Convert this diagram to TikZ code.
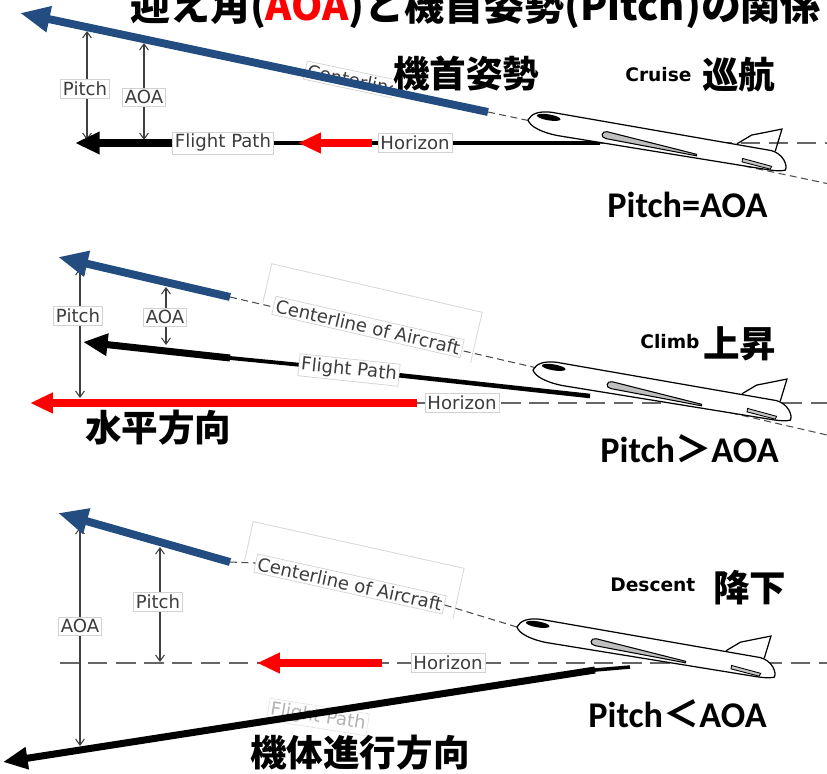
\documentclass[tikz,border=0pt]{standalone}
\usepackage{fontspec}
\usetikzlibrary{arrows.meta}
\newfontfamily\jpfont{Noto Sans CJK JP}
\newfontfamily\calfont{Carlito}
\newfontfamily\dvfont{DejaVu Sans}
\definecolor{navy}{RGB}{35,76,128}
\definecolor{labelgray}{RGB}{60,60,60}

\tikzset{
  titletext/.style={font=\jpfont\bfseries\fontsize{22.7}{26}\selectfont, inner sep=0, anchor=base west},
  jptext/.style={font=\jpfont\bfseries\fontsize{20.8}{24}\selectfont, inner sep=0, anchor=base west},
  cmptext/.style={font=\calfont\bfseries\fontsize{20.6}{24}\selectfont, inner sep=0, anchor=base west},
  phasetext/.style={font=\dvfont\bfseries\fontsize{10.6}{12}\selectfont, inner sep=0, anchor=base west},
  tag/.style={font=\dvfont\fontsize{10.3}{12}\selectfont, text=labelgray, draw=gray!35, fill=white,
    inner sep=1.3pt, line width=0.4pt},
  tagframe/.style={draw=gray!30, line width=0.5pt},
  dimarrow/.style={{Straight Barb[length=3.5pt,width=5pt]}-{Straight Barb[length=3.5pt,width=5pt]},
    draw=black!75, line width=0.6pt},
  bluearrow/.style={-{Triangle[length=17pt,width=14pt]}, navy, line width=4.5pt},
  redarrow/.style={-{Triangle[length=13pt,width=11pt]}, red, line width=4pt},
  patharrow/.style={-{Triangle[length=14pt,width=12pt]}, black, line width=4pt},
  horizonline/.style={draw=black!60, line width=0.9pt, dash pattern=on 11pt off 5pt},
  centerline/.style={draw=black!70, line width=0.6pt, dash pattern=on 4pt off 2.5pt},
  aircraft/.pic={
    % fuselage
    \draw[fill=white, line width=0.7pt]
      (0,0) .. controls (2,-7) and (10,-11) .. (22,-11.5) -- (245,-10)
      .. controls (257,-9) and (264,2) .. (262,7)
      .. controls (258,9) and (250,9.5) .. (240,9.5) -- (32,10.5)
      .. controls (15,10) and (3,6) .. (0,0) -- cycle;
    % canopy
    \fill[black] (20,-6) ellipse [x radius=12, y radius=3];
    % wing
    \draw[fill=gray!50, line width=0.6pt]
      (80,-1.5) .. controls (74,-1.5) and (74,5.5) .. (80,5.5) -- (172,7.5) -- (172,6) -- cycle;
    % fin
    \draw[line width=0.7pt] (210,-11) -- (223,-22) -- (252,-33) -- (249,-10);
    % engine nacelle
    \draw[fill=gray!45, line width=0.5pt] (218,2.5) -- (248,5.5) -- (247,8.5) -- (218,6) -- cycle;
  }
}

\begin{document}
\begin{tikzpicture}[x=0.02cm, y=-0.02cm]
\useasboundingbox (0,0) rectangle (827,773);
\clip (0,0) rectangle (827,773);

% ---------------- title ----------------
\node[titletext] (title) at (130,21) {迎え角(\textcolor{red}{AOA})と機首姿勢(Pitch)の関係};

% ---------------- cruise ----------------
\coordinate (b1end) at (488,112);
\coordinate (b1tip) at (20,13);
\coordinate (c1far) at (827,183.5);
\draw[centerline] (b1end) -- (c1far);
\coordinate (h1far) at (827,143);
\coordinate (h1mid) at (600,143);
\draw[horizonline] (h1mid) -- (h1far);
\coordinate (fp1tip) at (75,143);
\coordinate (fp1end) at (175,143);
\draw[black, line width=2pt] (fp1end) -- (h1mid);
\begin{scope}
  \clip (290,40) rectangle (392,100);
  \node[tag, rotate=-12, anchor=west] (cl1) at (305,70) {Centerline of Aircraft};
\end{scope}
\node[jptext, fill=white] (nose1) at (393,88) {機首姿勢};
\coordinate (p1top) at (87,31);
\coordinate (p1bot) at (87,140);
\coordinate (a1top) at (144,43);
\coordinate (a1bot) at (144,140);
\draw[dimarrow] (p1top) -- (p1bot);
\draw[dimarrow] (a1top) -- (a1bot);
\node[tag] (pitch1) at (85,89) {Pitch};
\node[tag] (aoa1) at (144,97) {AOA};
\draw[patharrow] (fp1end) -- (fp1tip);
\node[tag] (fp1) at (223,143) {Flight Path};
\coordinate (r1tail) at (372,143);
\coordinate (r1tip) at (298,143);
\draw[redarrow] (r1tail) -- (r1tip);
\node[tag] (hz1) at (415,143) {Horizon};
\draw[bluearrow] (b1end) -- (b1tip);
\pic[rotate=-9.5] at (528,120) {aircraft};
\node[phasetext] (cruise) at (625,82) {Cruise};
\node[jptext] (cruisejp) at (702,89) {巡航};
\node[cmptext] (cmp1) at (607,218) {Pitch=AOA};

% ---------------- climb ----------------
\coordinate (b2end) at (230,297);
\coordinate (b2tip) at (58,257);
\coordinate (c2far) at (827,435);
\draw[centerline] (b2end) -- (c2far);
\coordinate (h2start) at (417,403);
\coordinate (h2far) at (827,403);
\draw[horizonline] (h2start) -- (h2far);
\coordinate (fp2tip) at (83,342);
\coordinate (fp2end) at (230,358);
\coordinate (fp2plane) at (590,396);
\begin{scope}[shift={(368,327)}, rotate=-13]
  \draw[tagframe] (-108,0) -- (-108,-40) -- (108,-40) -- (108,12);
\end{scope}
\node[tag, rotate=-13] (cl2) at (368,327) {Centerline of Aircraft};
\node[tag, rotate=-6] (fp2) at (349,370) {Flight Path};
\draw[black, line width=2.2pt] (fp2end) -- (fp2.west);
\draw[black, line width=2.6pt] (fp2.east) -- (fp2plane);
\draw[patharrow] (fp2end) -- (fp2tip);
\coordinate (p2top) at (80,268);
\coordinate (p2bot) at (80,398);
\coordinate (a2top) at (166,287);
\coordinate (a2bot) at (166,345);
\draw[dimarrow] (p2top) -- (p2bot);
\draw[dimarrow] (a2top) -- (a2bot);
\node[tag] (pitch2) at (78,316) {Pitch};
\node[tag] (aoa2) at (165,317) {AOA};
\coordinate (r2tip) at (30,403);
\draw[redarrow] (h2start) -- (r2tip);
\node[tag] (hz2) at (462,403) {Horizon};
\draw[bluearrow] (b2end) -- (b2tip);
\pic[rotate=-9.5] at (533,370) {aircraft};
\node[phasetext] (climb) at (640,348) {Climb};
\node[jptext] (climbjp) at (703,357) {上昇};
\node[jptext] (horizjp) at (85,441) {水平方向};
\node[cmptext] (cmp2) at (600,462) {Pitch{\jpfont ＞}AOA};

% ---------------- descent ----------------
\coordinate (b3end) at (230,562);
\coordinate (b3tip) at (58,513);
\coordinate (n3) at (517,627);
\coordinate (h3start) at (60,663);
\coordinate (h3far) at (827,663);
\draw[horizonline] (h3start) -- (h3far);
\begin{scope}[shift={(350,584)}, rotate=-12.5]
  \draw[tagframe] (-108,0) -- (-108,-40) -- (108,-40) -- (108,12);
\end{scope}
\node[tag, rotate=-12.5] (cl3) at (350,584) {Centerline of Aircraft};
\draw[centerline] (b3end) -- (cl3.west);
\draw[centerline] (cl3.east) -- (n3);
\coordinate (p3top) at (160,547);
\coordinate (p3bot) at (160,662);
\coordinate (a3top) at (80,527);
\coordinate (a3bot) at (80,746);
\draw[dimarrow] (a3top) -- (a3bot);
\draw[dimarrow] (p3top) -- (p3bot);
\node[tag] (aoa3) at (80,626) {AOA};
\node[tag] (pitch3) at (158,602) {Pitch};
\coordinate (r3tail) at (382,663);
\coordinate (r3tip) at (257,663);
\draw[redarrow] (r3tail) -- (r3tip);
\node[tag] (hz3) at (448,663) {Horizon};
\node[tag, rotate=-9, draw=gray!20, text=gray!60] (fp3) at (318,717) {Flight Path};
\coordinate (fp3end) at (595,670);
\coordinate (fp3plane) at (630,667);
\coordinate (fp3tip) at (3,762);
\draw[black, line width=2pt] (fp3plane) -- (fp3end);
\draw[patharrow] (fp3end) -- (fp3tip);
\draw[bluearrow] (b3end) -- (b3tip);
\pic[rotate=-9.5] at (n3) {aircraft};
\node[phasetext] (descent) at (610,591) {Descent};
\node[jptext] (descentjp) at (713,601) {降下};
\node[cmptext] (cmp3) at (588,727) {Pitch{\jpfont ＜}AOA};
\node[jptext] (pathjp) at (250,766) {機体進行方向};
\end{tikzpicture}
\end{document}
